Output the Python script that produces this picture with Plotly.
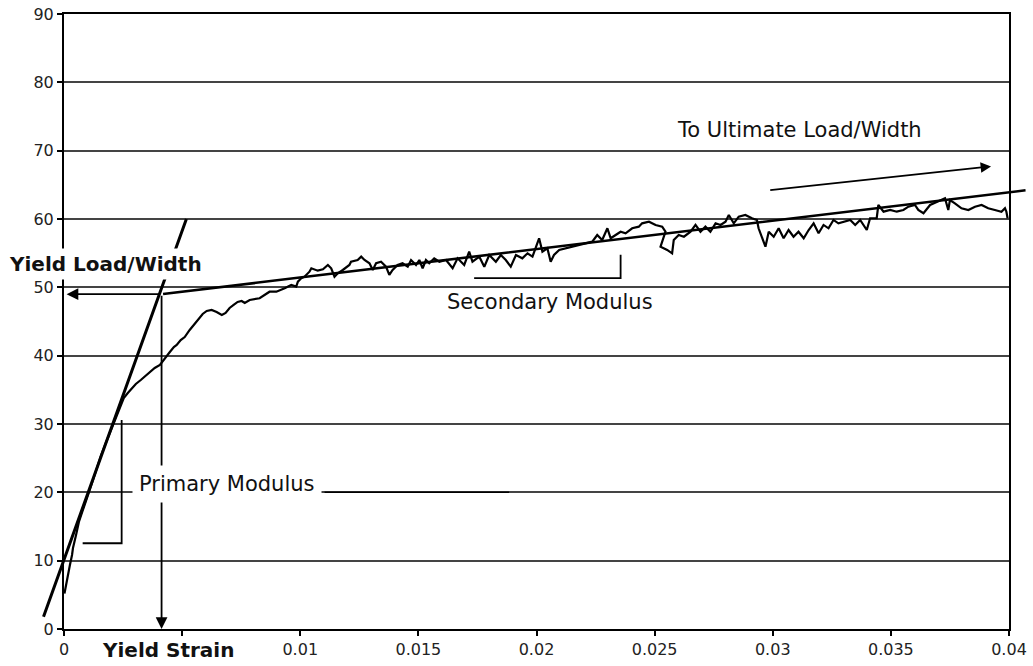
import plotly.graph_objects as go

strain = [0.00002, 0.00008, 0.00017, 0.00025, 0.00034, 0.00038, 0.00051, 0.00063, 0.00080, 0.00093,
          0.00106, 0.00123, 0.00139, 0.00156, 0.00177, 0.00199, 0.00220, 0.00237, 0.00253, 0.00270,
          0.00287, 0.00304, 0.00325, 0.00346, 0.00363, 0.00384, 0.00406, 0.00418, 0.00431, 0.00448,
          0.00465, 0.00477, 0.00494, 0.00511, 0.00532, 0.00553, 0.00575, 0.00587, 0.00604, 0.00625,
          0.00646, 0.00668, 0.00684, 0.00701, 0.00718, 0.00735, 0.00752, 0.00765, 0.00786,
          0.00828, 0.00870, 0.00899, 0.00934, 0.00962, 0.00983, 0.00990, 0.01004, 0.01018, 0.01039,
          0.01047, 0.01074, 0.01096, 0.01117, 0.01131, 0.01145, 0.01159, 0.01180, 0.01208, 0.01215,
          0.01243, 0.01258, 0.01272, 0.01293, 0.01307, 0.01321, 0.01342, 0.01363, 0.01377, 0.01391,
          0.01412, 0.01433, 0.01455, 0.01469, 0.01490, 0.01504, 0.01518, 0.01532, 0.01546, 0.01567,
          0.01589, 0.01617,
          0.01645, 0.01666, 0.01694, 0.01715, 0.01729, 0.01758, 0.01779, 0.01800, 0.01828, 0.01849,
          0.01870, 0.01891, 0.01913, 0.01940, 0.01962, 0.01983, 0.02011, 0.02025, 0.02046, 0.02060,
          0.02074, 0.02096, 0.02124, 0.02152, 0.02180, 0.02208, 0.02236, 0.02257, 0.02278, 0.02300,
          0.02314, 0.02335, 0.02356, 0.02377, 0.02405, 0.02433,
          0.02447, 0.02476, 0.02504, 0.02532, 0.02546, 0.02525, 0.02553, 0.02574, 0.02581, 0.02602,
          0.02624, 0.02652, 0.02673, 0.02694, 0.02715, 0.02736, 0.02758, 0.02779, 0.02800, 0.02814,
          0.02835, 0.02856, 0.02884, 0.02912, 0.02933, 0.02940, 0.02954, 0.02969, 0.02983, 0.03004,
          0.03025, 0.03046, 0.03067, 0.03088, 0.03109, 0.03131, 0.03152, 0.03173, 0.03194,
          0.03215, 0.03236, 0.03257, 0.03278, 0.03307, 0.03328, 0.03349, 0.03370, 0.03398, 0.03412,
          0.03440, 0.03447, 0.03469, 0.03497, 0.03525, 0.03553, 0.03574, 0.03602, 0.03616, 0.03638,
          0.03666, 0.03694, 0.03729, 0.03743, 0.03750, 0.03771, 0.03799, 0.03828, 0.03856, 0.03884,
          0.03912, 0.03940, 0.03968, 0.03983, 0.03989, 0.03994]

load = [5.20, 6.44, 7.90, 9.37, 10.83, 11.85, 13.76, 15.66, 17.42, 18.88,
        20.05, 21.81, 23.56, 25.32, 27.22, 29.12, 31.03, 32.64, 33.81, 34.54,
        35.27, 35.86, 36.44, 37.03, 37.61, 38.20, 38.64, 39.22, 39.81, 40.54,
        41.27, 41.56, 42.29, 42.73, 43.76, 44.64, 45.51, 46.10, 46.54, 46.69,
        46.39, 45.95, 46.25, 46.98, 47.42, 47.86, 48.00, 47.71, 48.15,
        48.40, 49.36, 49.36, 49.86, 50.34, 50.10, 50.83, 51.32, 51.56, 52.29,
        52.79, 52.44, 52.64, 53.27, 52.79, 51.56, 52.06, 52.54, 53.27, 53.75,
        54.00, 54.49, 54.00, 53.52, 52.54, 53.52, 53.75, 53.02, 51.81, 52.54,
        53.27, 53.52, 53.02, 54.00, 53.27, 54.00, 52.79, 54.00, 53.52, 54.25,
        53.75, 54.00,
        52.79, 54.25, 53.27, 55.22, 53.75, 54.49, 53.02, 54.73, 53.75, 54.73,
        54.00, 53.02, 54.73, 54.25, 54.98, 54.49, 57.18, 55.22, 55.72, 53.75,
        54.73, 55.47, 55.72, 55.95, 56.20, 56.45, 56.68, 57.66, 56.93, 58.64,
        57.18, 57.66, 58.14, 57.91, 58.64, 58.88,
        59.37, 59.61, 59.13, 58.88, 58.14, 55.95, 55.47, 54.98, 56.93, 57.66,
        57.41, 58.14, 59.13, 58.14, 58.88, 58.14, 59.37, 59.13, 59.61, 60.59,
        59.37, 60.34, 60.59, 60.11, 59.86, 58.64, 57.41, 55.95, 58.14, 57.41,
        58.64, 57.18, 58.39, 57.41, 58.14, 57.18, 58.39, 59.37, 57.91,
        59.13, 58.64, 59.86, 59.37, 59.61, 59.86, 59.13, 59.86, 58.39, 60.11,
        60.11, 62.05, 61.07, 61.32, 61.07, 61.32, 61.80, 62.05, 61.32, 60.84,
        62.05, 62.53, 63.03, 61.32, 62.78, 62.30, 61.57, 61.32, 61.80, 62.05,
        61.57, 61.32, 61.07, 61.57, 61.07, 60.11]

# ---- construction lines (strain, load/width) ----
yield_strain = 0.00413
yield_load = 49.0
primary_line_x = [-0.00089, 0.00518]
primary_line_y = [1.57, 60.0]
secondary_line_x = [yield_strain, 0.0407]
secondary_line_y = [yield_load, 64.2]
ultimate_arrow_x = [0.02983, 0.03924]
ultimate_arrow_y = [64.2, 67.7]
primary_bracket_x = [0.00079, 0.00244, 0.00244]
primary_bracket_y = [12.55, 12.55, 30.6]
secondary_bracket_x = [0.01736, 0.02356, 0.02356]
secondary_bracket_y = [51.35, 51.35, 54.76]
leader_x = [0.01103, 0.01884]
leader_y = [20, 20]

x_tickvals = [0, 0.005, 0.01, 0.015, 0.02, 0.025, 0.03, 0.035, 0.04]
x_ticktext = ["0", "", "0.01", "0.015", "0.02", "0.025", "0.03", "0.035", "0.04"]
y_tickvals = [0, 10, 20, 30, 40, 50, 60, 70, 80, 90]

FONT = "DejaVu Sans"

fig = go.Figure()
fig.add_trace(go.Scatter(x=strain, y=load, mode="lines",
                         line=dict(color="black", width=2.2), hoverinfo="skip"))
fig.add_trace(go.Scatter(x=primary_bracket_x, y=primary_bracket_y, mode="lines",
                         line=dict(color="black", width=1.8), hoverinfo="skip"))
fig.add_trace(go.Scatter(x=secondary_bracket_x, y=secondary_bracket_y, mode="lines",
                         line=dict(color="black", width=1.8), hoverinfo="skip"))
fig.add_trace(go.Scatter(x=leader_x, y=leader_y, mode="lines",
                         line=dict(color="black", width=1.5), hoverinfo="skip"))

annotations = []


def seg(x0, y0, x1, y1, width, head=0, size=1.0):
    annotations.append(dict(x=x1, y=y1, ax=x0, ay=y0, xref="x", yref="y",
                            axref="x", ayref="y", text="", showarrow=True,
                            arrowhead=head, arrowsize=size, arrowwidth=width,
                            arrowcolor="black", standoff=0, startstandoff=0))


seg(primary_line_x[0], primary_line_y[0], primary_line_x[1], primary_line_y[1], 3)
seg(secondary_line_x[0], secondary_line_y[0], secondary_line_x[1], secondary_line_y[1], 2.6)
seg(yield_strain, yield_load, yield_strain, 0, 1.8, head=2, size=1.3)
seg(yield_strain, yield_load, 0.00011, yield_load, 1.8, head=2, size=1.3)
seg(ultimate_arrow_x[0], ultimate_arrow_y[0], ultimate_arrow_x[1], ultimate_arrow_y[1], 1.6, head=2, size=1.3)


def label(text, x, y, size, bold=False, bg=None, pad=1, yref="y"):
    annotations.append(dict(x=x, y=y, xref="x", yref=yref, showarrow=False,
                            text=("<b>%s</b>" % text) if bold else text,
                            font=dict(family=FONT, size=size, color="#111"),
                            bgcolor=bg, borderpad=pad, xanchor="center", yanchor="middle"))


label("Yield Load/Width", 0.00174, 53.4, 20, bold=True, bg="white", pad=3)
label("Primary Modulus", 0.00690, 21.2, 21, bg="white", pad=6)
label("Secondary Modulus", 0.02057, 47.9, 21)
label("To Ultimate Load/Width", 0.03115, 73.0, 21)
label("Yield Strain", 0.0044, -0.034, 20, bold=True, yref="paper")

fig.update_layout(
    width=1033, height=666,
    margin=dict(l=64, r=24, t=14, b=37, autoexpand=False),
    paper_bgcolor="white", plot_bgcolor="white",
    showlegend=False,
    annotations=annotations,
    font=dict(family=FONT, size=16, color="#222"),
    xaxis=dict(range=[0, 0.04], tickvals=x_tickvals, ticktext=x_ticktext, automargin=False,
               showgrid=False, zeroline=False, showline=True, linecolor="black",
               linewidth=2, mirror=True, ticks="outside", ticklen=5, tickwidth=1.5,
               tickcolor="black", tickfont=dict(family=FONT, size=16, color="#222")),
    yaxis=dict(range=[0, 90], tickvals=y_tickvals, showgrid=True, gridcolor="#444",
               gridwidth=1.5, zeroline=False, showline=True, linecolor="black", automargin=False,
               linewidth=2, mirror=True, ticks="outside", ticklen=5, tickwidth=1.5,
               tickcolor="black", tickfont=dict(family=FONT, size=16, color="#222")),
)

fig.write_html("out.html", config={"displayModeBar": False},
               post_script="document.body.style.margin='0';document.body.style.padding='0';")
